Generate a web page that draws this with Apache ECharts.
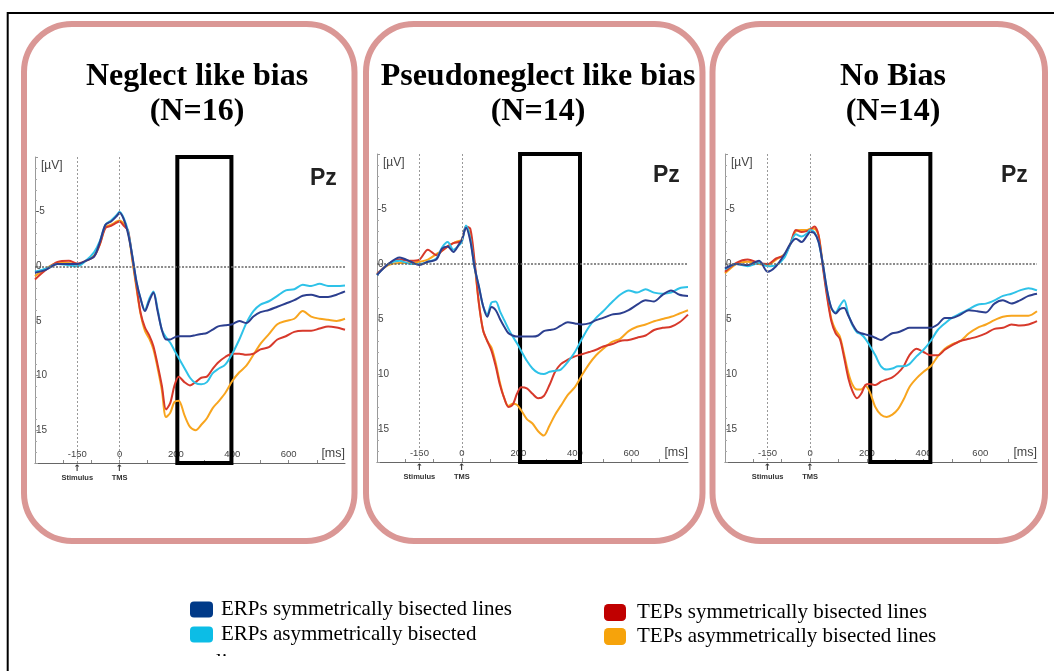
<!DOCTYPE html>
<html>
<head>
<meta charset="utf-8">
<title>Pz ERPs and TEPs by bisection bias group</title>
<script src="https://cdn.jsdelivr.net/npm/echarts@6/dist/echarts.min.js"></script>
<style>
  html, body { margin: 0; padding: 0; background: #ffffff; }
  #chart { width: 1054px; height: 671px; }
</style>
</head>
<body>
<div id="chart"></div>
<script>
// Sample times (ms relative to TMS)
const times = [-300,-260,-220,-180,-150,-120,-90,-70,-50,-30,-10,0,15,30,45,60,75,90,105,120,135,150,165,180,195,210,230,250,270,290,310,330,350,375,400,425,450,475,500,530,560,590,620,650,680,710,740,770,800];

// Group headings
const groupNames = ['Neglect like bias', 'Pseudoneglect like bias', 'No Bias'];
const groupSizes = [16, 14, 14];
const channelName = 'Pz';

// Condition names (legend)
const conditionNames = [
  'ERPs symmetrically bisected lines',
  'ERPs asymmetrically bisected lines',
  'TEPs symmetrically bisected lines',
  'TEPs asymmetrically bisected lines'
];

// Event markers on the time axis
const eventTimes = [-150, 0];
const eventNames = ['Stimulus', 'TMS'];

// Axis ticks and labels
const timeLabels = [-150, 0, 200, 400, 600];
const timeTicks = [-200, -100, 0, 100, 200, 300, 400, 500, 600, 700];
const voltLabels = [-5, 0, 5, 10, 15];

// Analysis window (ms) for each group
const windowStart = [205, 206, 212];
const windowEnd = [397, 418, 424];

// Amplitudes (µV) - Neglect like bias
const neglectErpSym  = [0.6,0.3,-0.2,-0.2,-0.2,-0.5,-0.9,-2.2,-3.8,-4.1,-4.6,-4.9,-4.3,-3.0,-1.0,1.4,3.0,4.1,3.2,2.4,4.1,5.8,6.7,6.7,6.5,6.4,6.4,6.4,6.3,6.2,6.1,5.8,5.5,5.4,5.3,5.0,5.2,4.6,4.2,4.0,3.7,3.4,3.1,2.7,2.6,2.8,2.8,2.6,2.3];
const neglectErpAsym = [0.5,0.2,-0.2,-0.1,0.0,-0.5,-1.3,-2.3,-3.8,-4.2,-4.7,-5.0,-4.4,-3.2,-1.0,1.4,3.0,4.0,3.0,2.3,3.9,5.8,6.5,7.0,7.7,8.4,9.3,10.2,10.7,10.8,10.6,9.8,9.4,9.0,8.0,6.7,5.2,4.1,3.5,3.2,2.7,2.2,2.1,1.7,1.8,1.6,1.8,1.8,1.75];
const neglectTepSym  = [1.2,0.3,-0.4,-0.5,-0.25,-0.5,-0.9,-2.0,-3.5,-3.7,-4.0,-4.1,-3.7,-3.3,-0.8,1.8,4.3,5.6,6.3,7.3,9.0,10.9,13.1,12.5,10.9,10.1,10.6,10.9,10.6,10.2,10.1,9.4,8.8,8.3,8.0,8.0,8.1,8.0,7.6,7.4,6.7,6.4,6.0,5.9,5.9,5.7,5.5,5.6,5.8];
const neglectTepAsym = [0.9,0.2,-0.3,-0.3,-0.15,-0.5,-1.0,-2.0,-3.6,-3.8,-4.1,-4.2,-3.9,-3.2,-0.6,2.0,4.4,5.9,6.6,7.6,9.3,11.3,13.8,13.4,12.4,12.3,13.6,14.7,15.0,14.5,13.9,13.0,12.4,11.6,10.5,9.7,9.1,8.1,7.1,6.2,5.3,5.0,4.8,4.1,4.6,4.8,4.9,5.0,4.8];

// Amplitudes (µV) - Pseudoneglect like bias
const pseudoErpSym  = [1.0,0.0,-0.6,-0.2,0.1,-0.2,-0.4,-1.4,-1.6,-1.1,-1.8,-2.2,-3.3,-2.1,0.3,2.0,3.8,4.8,3.9,4.2,5.0,5.7,6.3,6.5,6.6,6.6,6.6,6.6,6.5,6.1,6.0,5.9,5.6,5.3,5.4,5.5,5.4,5.1,4.9,4.6,4.5,4.2,3.7,3.3,3.4,2.8,2.4,2.8,2.9];
const pseudoErpAsym = [1.0,0.0,-0.3,0.0,0.0,-0.2,-0.5,-1.5,-2.0,-1.3,-1.7,-2.0,-3.5,-2.3,0.3,2.0,3.8,4.6,3.5,3.4,4.3,5.1,5.9,6.6,7.2,7.9,8.8,9.5,9.9,10.0,9.8,9.7,9.6,8.9,8.0,6.8,5.7,4.9,4.3,3.5,2.8,2.4,2.6,2.3,2.6,2.7,2.6,2.2,2.1];
const pseudoTepSym  = [0.9,0.0,-0.4,-0.3,-0.4,-1.3,-0.8,-1.2,-1.6,-1.9,-2.0,-2.1,-3.4,-3.2,-0.3,3.5,6.0,7.0,7.9,9.3,11.0,12.2,13.0,12.8,11.8,11.2,11.3,11.8,12.2,12.0,11.0,9.8,9.1,8.7,8.4,8.2,8.0,7.8,7.5,7.3,7.0,6.9,6.7,6.5,6.0,5.8,5.7,5.3,4.6];
const pseudoTepAsym = [0.9,0.1,-0.1,-0.1,-0.2,-0.4,-0.9,-1.2,-1.6,-1.9,-2.1,-2.2,-3.4,-2.6,0.0,3.5,6.0,7.0,7.6,9.0,10.8,12.2,12.9,12.7,12.8,13.3,14.1,14.5,15.2,15.6,14.7,13.7,12.9,11.9,11.2,10.1,9.1,8.3,7.7,7.1,6.8,6.1,5.7,5.5,5.2,5.0,4.8,4.5,4.2];

// Amplitudes (µV) - No Bias
const noBiasErpSym  = [0.4,0.0,0.1,-0.3,0.7,0.2,-0.9,-1.8,-2.3,-2.0,-2.6,-2.9,-2.8,-2.0,0.0,2.4,4.0,4.5,4.1,4.0,4.7,5.5,6.1,6.3,6.4,6.5,6.7,6.9,6.6,6.3,6.2,6.0,5.8,5.8,5.8,5.8,5.5,4.9,4.9,4.6,4.2,4.3,4.4,3.6,3.3,3.6,3.3,2.9,2.7];
const noBiasErpAsym = [0.5,0.0,0.2,-0.1,0.2,0.1,-0.6,-1.8,-2.7,-2.5,-2.8,-3.1,-2.9,-2.0,0.0,2.4,4.0,4.4,3.8,3.3,4.6,5.6,6.2,6.4,6.8,7.4,8.3,9.3,9.6,9.5,9.3,9.3,9.1,8.4,7.8,7.0,6.0,5.4,4.9,4.5,4.1,3.7,3.6,3.3,2.9,2.7,2.4,2.2,2.4];
const noBiasTepSym  = [0.7,-0.1,-0.4,-0.1,0.0,-0.5,-0.8,-1.8,-3.1,-2.9,-3.0,-3.1,-3.4,-2.6,0.3,3.0,5.2,6.3,6.8,8.5,10.4,11.6,12.2,11.8,11.0,10.9,11.0,10.7,10.5,10.3,9.9,9.3,8.3,7.7,8.0,8.3,8.3,7.8,7.4,7.0,6.8,6.6,6.3,5.9,5.8,5.5,5.6,5.5,5.2];
const noBiasTepAsym = [0.85,0.0,-0.2,0.0,0.1,-0.4,-0.9,-1.8,-3.0,-3.1,-3.1,-3.2,-3.2,-2.6,0.1,2.8,5.0,6.0,6.6,8.2,9.9,11.0,11.4,11.4,11.1,11.6,13.0,13.7,13.9,13.7,13.2,12.3,11.2,10.4,9.8,9.3,8.4,7.7,7.3,7.0,6.3,5.8,5.5,5.1,4.8,4.7,4.7,4.7,4.3];

const groupData = [
  [neglectErpSym, neglectErpAsym, neglectTepSym, neglectTepAsym],
  [pseudoErpSym, pseudoErpAsym, pseudoTepSym, pseudoTepAsym],
  [noBiasErpSym, noBiasErpAsym, noBiasTepSym, noBiasTepAsym]
];

// ---- layout and styling ----
const lineColors = ['#2c3f8f', '#2ec2e8', '#d7392b', '#f8a51e'];
const legendColors = ['#003a88', '#0cbde6', '#c00000', '#f6a30b'];
const drawOrder = [3, 2, 1, 0]; // TEP asym underneath, ERP sym on top

const grids = [
  { left: 35,  top: 157, width: 310, height: 306 },
  { left: 377, top: 154, width: 311, height: 308 },
  { left: 725, top: 154, width: 312, height: 308 }
];
const titleCenters = [192, 533, 888];
const channelPos = [[305, 162], [648, 159], [996, 159]];
const unitPos = [[36, 155], [378, 152], [726, 152]];
const boxEdges = [[24, 354.5], [366, 702.5], [712.5, 1045]];

const axisFont = 'Liberation Sans, Arial, sans-serif';
const serifFont = 'Liberation Serif, Times New Roman, serif';

const xAxes = [], yAxes = [], series = [], titles = [];

grids.forEach((g, i) => {
  // main time axis
  xAxes.push({
    gridIndex: i, type: 'value', min: -300, max: 800, position: 'bottom',
    axisLine: { show: true, onZero: false, lineStyle: { color: '#666', width: 1 } },
    axisTick: { show: true, customValues: timeTicks, inside: true, length: 3, lineStyle: { color: '#888' } },
    splitLine: { show: false },
    axisLabel: { customValues: timeLabels, inside: true, margin: 4, fontSize: 9.5, color: '#444', fontFamily: axisFont },
    name: '[ms]', nameLocation: 'end', nameGap: 0,
    nameTextStyle: { align: 'right', verticalAlign: 'bottom', fontSize: 12.5, color: '#444', fontFamily: axisFont, padding: [0, 0, 3, 0] }
  });
  // event markers under the time axis
  xAxes.push({
    gridIndex: i, type: 'value', min: -300, max: 800, position: 'bottom',
    axisLine: { show: false, onZero: false }, axisTick: { show: false }, splitLine: { show: false },
    axisLabel: {
      customValues: eventTimes, margin: 2,
      formatter: v => '{a|↑}\n{b|' + eventNames[eventTimes.indexOf(v)] + '}',
      rich: {
        a: { fontSize: 9, fontWeight: 'bold', lineHeight: 8, color: '#333', fontFamily: 'DejaVu Sans' },
        b: { fontSize: 7.5, fontWeight: 'bold', lineHeight: 10, color: '#333', fontFamily: axisFont }
      }
    }
  });
  yAxes.push({
    gridIndex: i, type: 'value', inverse: true, min: -10, max: 18, interval: 5, position: 'left',
    axisLine: { show: true, onZero: false, lineStyle: { color: '#999', width: 1 } },
    axisTick: { show: true, inside: true, length: 3, lineStyle: { color: '#999' } },
    minorTick: { show: true, splitNumber: 5, length: 2, lineStyle: { color: '#aaa' } },
    splitLine: { show: false },
    axisLabel: { customValues: voltLabels, inside: true, margin: 1, fontSize: 10, color: '#444', fontFamily: axisFont }
  });

  drawOrder.forEach((k, n) => {
    const s = {
      name: conditionNames[k], type: 'line',
      xAxisIndex: i * 2, yAxisIndex: i,
      data: times.map((t, j) => [t, groupData[i][k][j]]),
      smooth: 0.3, showSymbol: false, symbol: 'none',
      lineStyle: { color: lineColors[k], width: 2 },
      itemStyle: { color: lineColors[k] },
      silent: true
    };
    if (n === 0) {
      s.markLine = {
        silent: true, symbol: ['none', 'none'], label: { show: false },
        lineStyle: { color: '#999', type: [2, 2], width: 1 },
        data: [
          { xAxis: eventTimes[0] },
          { xAxis: eventTimes[1] },
          { yAxis: 0, lineStyle: { color: '#666', type: [2, 1.5], width: 1.6 } }
        ]
      };
    }
    if (n === drawOrder.length - 1) {
      s.markArea = {
        silent: true,
        itemStyle: { color: 'rgba(0,0,0,0)', borderColor: '#000', borderWidth: 4 },
        data: [[{ xAxis: windowStart[i] }, { xAxis: windowEnd[i] }]]
      };
    }
    series.push(s);
  });

  titles.push({
    text: groupNames[i] + '\n(N=' + groupSizes[i] + ')',
    left: titleCenters[i], top: 54, textAlign: 'center',
    textStyle: { fontFamily: serifFont, fontWeight: 'bold', fontSize: 32, lineHeight: 35, color: '#000' }
  });
  titles.push({
    text: channelName, left: channelPos[i][0], top: channelPos[i][1],
    textStyle: { fontFamily: axisFont, fontWeight: 'bold', fontSize: 23, color: '#222' }
  });
  titles.push({
    text: '[µV]', left: unitPos[i][0], top: unitPos[i][1],
    textStyle: { fontFamily: axisFont, fontWeight: 'normal', fontSize: 12, color: '#444' }
  });
});

// Panel frames
const graphics = [
  { type: 'rect', z: -10, shape: { x: 7.7, y: 13, width: 1200, height: 800 }, style: { fill: 'none', stroke: '#000', lineWidth: 2 } }
];
boxEdges.forEach(([l, r]) => {
  graphics.push({
    type: 'rect', z: -5,
    shape: { x: l, y: 24, width: r - l, height: 517, r: 48 },
    style: { fill: 'none', stroke: '#da9795', lineWidth: 6 }
  });
});
// wrapped remainder of the second legend entry, cut by its text box
graphics.push({
  type: 'text', z: 10, left: 216, top: 652,
  style: { text: 'lines', font: '21px "Liberation Serif"', fill: '#000' }
});
graphics.push({
  type: 'rect', z: 11, shape: { x: 205, y: 656, width: 80, height: 20 }, style: { fill: '#fff' }
});

const legendText = { fontFamily: serifFont, fontSize: 21, color: '#000' };
const option = {
  animation: false,
  backgroundColor: '#ffffff',
  title: titles,
  grid: grids,
  xAxis: xAxes,
  yAxis: yAxes,
  legend: [
    {
      left: 185, top: 594, orient: 'vertical', icon: 'roundRect',
      itemWidth: 23, itemHeight: 16, itemGap: 4, selectedMode: false,
      data: [0, 1].map(k => ({ name: conditionNames[k], itemStyle: { color: legendColors[k] } })),
      formatter: name => name === conditionNames[1] ? 'ERPs asymmetrically bisected' : name,
      textStyle: Object.assign({ padding: [0, 0, 0, 3] }, legendText)
    },
    {
      left: 599, top: 597, orient: 'vertical', icon: 'roundRect',
      itemWidth: 22, itemHeight: 17, itemGap: 3, selectedMode: false,
      data: [2, 3].map(k => ({ name: conditionNames[k], itemStyle: { color: legendColors[k] } })),
      textStyle: Object.assign({ padding: [0, 0, 0, 6] }, legendText)
    }
  ],
  graphic: graphics,
  series: series
};

const chart = echarts.init(document.getElementById('chart'), null, { renderer: 'canvas' });
chart.setOption(option);
</script>
</body>
</html>
